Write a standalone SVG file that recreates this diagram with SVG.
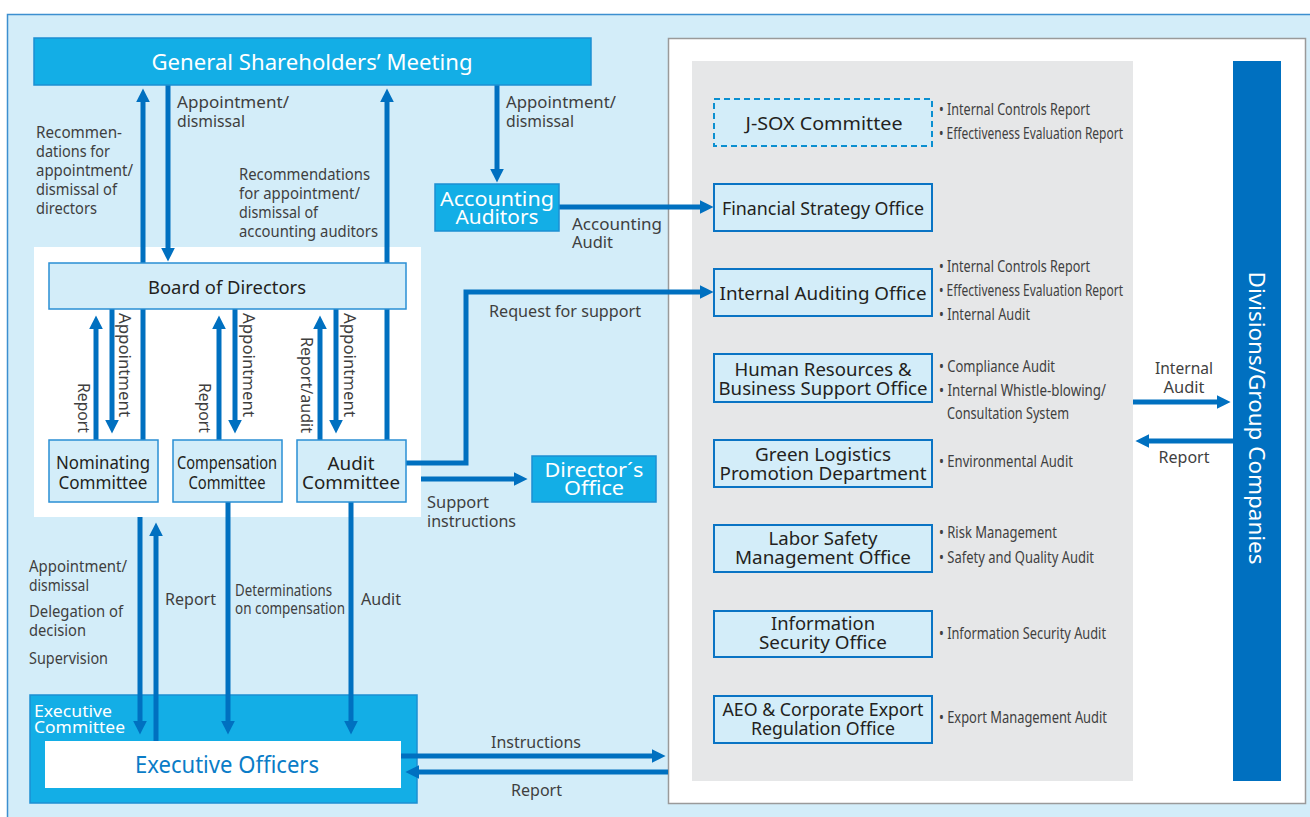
<svg xmlns="http://www.w3.org/2000/svg" width="1310" height="817" viewBox="0 0 1310 817">
<defs>
<marker id="ah" viewBox="0 0 10 10" refX="1" refY="5" markerWidth="14" markerHeight="14" markerUnits="userSpaceOnUse" orient="auto"><path d="M0,0L10,5L0,10z" fill="#0070c0"/></marker>
<style>
text{font-family:"Noto Sans","Open Sans",sans-serif}
.lbl{font-size:16px;fill:#3f3f3f}
.cnd{font-size:17px;fill:#3f3f3f}
.bx{font-size:18px;fill:#231f20}
.wt{fill:#fff}
.c{text-anchor:middle}
.e{text-anchor:end}
.ln{fill:none;stroke:#0070c0;stroke-width:5;marker-end:url(#ah)}
.lb{fill:#d3edf9;stroke:#2a8fd4;stroke-width:1.5}
.rb{fill:#d3edf9;stroke:#0a74c4;stroke-width:2}
.cy{fill:#13aee6;stroke:#1d8fd2;stroke-width:1.5}
</style>
</defs>
<rect x="7.5" y="14.5" width="1320" height="820" fill="#d3edf9" stroke="#3c8fd0" stroke-width="1.5"/>
<rect x="34" y="247" width="387" height="270" fill="#fff"/>
<rect x="30" y="695" width="387" height="108" class="cy"/>
<rect x="668.5" y="38.5" width="637" height="765" fill="#fff" stroke="#9a9a9a" stroke-width="1.5"/>
<rect x="692" y="61" width="441" height="720" fill="#e6e7e8"/>

<g id="connectors">
<path class="ln" d="M143,440V101"/>
<path class="ln" d="M168,85V249"/>
<path class="ln" d="M387,440V101"/>
<path class="ln" d="M497,85V170"/>
<path class="ln" d="M559,207H701"/>
<path class="ln" d="M406,463H466V292H701"/>
<path class="ln" d="M421,479H515"/>
<path class="ln" d="M96,440V328"/>
<path class="ln" d="M112,309V421"/>
<path class="ln" d="M219,440V328"/>
<path class="ln" d="M235,309V421"/>
<path class="ln" d="M320,440V328"/>
<path class="ln" d="M336,309V421"/>
<path class="ln" d="M140,517V722"/>
<path class="ln" d="M156,742V535"/>
<path class="ln" d="M228,502V722"/>
<path class="ln" d="M351,502V722"/>
<path class="ln" d="M401,756H653"/>
<path class="ln" d="M668,772H418"/>
<path class="ln" d="M1133,402H1218"/>
<path class="ln" d="M1233,441H1148"/>
</g>

<g id="labels">
<text class="lbl" x="177" y="108" textLength="112" lengthAdjust="spacingAndGlyphs">Appointment/</text>
<text class="lbl" x="177" y="127" textLength="68" lengthAdjust="spacingAndGlyphs">dismissal</text>
<text class="lbl" x="36" y="138" textLength="86" lengthAdjust="spacingAndGlyphs">Recommen-</text>
<text class="lbl" x="36" y="157" textLength="74" lengthAdjust="spacingAndGlyphs">dations for</text>
<text class="lbl" x="36" y="176" textLength="97" lengthAdjust="spacingAndGlyphs">appointment/</text>
<text class="lbl" x="36" y="195" textLength="81" lengthAdjust="spacingAndGlyphs">dismissal of</text>
<text class="lbl" x="36" y="214" textLength="61" lengthAdjust="spacingAndGlyphs">directors</text>
<text class="lbl" x="239" y="180" textLength="131" lengthAdjust="spacingAndGlyphs">Recommendations</text>
<text class="lbl" x="239" y="199" textLength="121" lengthAdjust="spacingAndGlyphs">for appointment/</text>
<text class="lbl" x="239" y="218" textLength="79" lengthAdjust="spacingAndGlyphs">dismissal of</text>
<text class="lbl" x="239" y="237" textLength="139" lengthAdjust="spacingAndGlyphs">accounting auditors</text>
<text class="lbl" x="506" y="108" textLength="110" lengthAdjust="spacingAndGlyphs">Appointment/</text>
<text class="lbl" x="506" y="127" textLength="68" lengthAdjust="spacingAndGlyphs">dismissal</text>
<text class="lbl" x="572" y="230" textLength="90" lengthAdjust="spacingAndGlyphs">Accounting</text>
<text class="lbl" x="572" y="248" textLength="41" lengthAdjust="spacingAndGlyphs">Audit</text>
<text class="lbl" x="489" y="317" textLength="152" lengthAdjust="spacingAndGlyphs">Request for support</text>
<text class="lbl" x="427" y="508" textLength="62" lengthAdjust="spacingAndGlyphs">Support</text>
<text class="lbl" x="427" y="527" textLength="89" lengthAdjust="spacingAndGlyphs">instructions</text>
<text class="lbl" transform="translate(77.5,433) rotate(90)" text-anchor="end" textLength="50" lengthAdjust="spacingAndGlyphs">Report</text>
<text class="lbl" transform="translate(119,313) rotate(90)" textLength="104" lengthAdjust="spacingAndGlyphs">Appointment</text>
<text class="lbl" transform="translate(199,433) rotate(90)" text-anchor="end" textLength="50" lengthAdjust="spacingAndGlyphs">Report</text>
<text class="lbl" transform="translate(243,313) rotate(90)" textLength="104" lengthAdjust="spacingAndGlyphs">Appointment</text>
<text class="lbl" transform="translate(301,433) rotate(90)" text-anchor="end" textLength="96" lengthAdjust="spacingAndGlyphs">Report/audit</text>
<text class="lbl" transform="translate(344,313) rotate(90)" textLength="104" lengthAdjust="spacingAndGlyphs">Appointment</text>
<text class="cnd" x="29" y="572" textLength="98" lengthAdjust="spacingAndGlyphs">Appointment/</text>
<text class="cnd" x="29" y="591" textLength="60" lengthAdjust="spacingAndGlyphs">dismissal</text>
<text class="cnd" x="29" y="617" textLength="94" lengthAdjust="spacingAndGlyphs">Delegation of</text>
<text class="cnd" x="29" y="636" textLength="57" lengthAdjust="spacingAndGlyphs">decision</text>
<text class="cnd" x="29" y="664" textLength="79" lengthAdjust="spacingAndGlyphs">Supervision</text>
<text class="cnd" x="165" y="605" textLength="51" lengthAdjust="spacingAndGlyphs">Report</text>
<text class="cnd" x="235" y="596" font-size="16" textLength="97" lengthAdjust="spacingAndGlyphs">Determinations</text>
<text class="cnd" x="235" y="614" font-size="16" textLength="110" lengthAdjust="spacingAndGlyphs">on compensation</text>
<text class="cnd" x="361" y="605" textLength="40" lengthAdjust="spacingAndGlyphs">Audit</text>
<text class="cnd" x="491" y="748" textLength="90" lengthAdjust="spacingAndGlyphs">Instructions</text>
<text class="cnd" x="511" y="796" textLength="51" lengthAdjust="spacingAndGlyphs">Report</text>
<text class="cnd c" x="1184" y="374" textLength="58" lengthAdjust="spacingAndGlyphs">Internal</text>
<text class="cnd c" x="1184" y="393" textLength="41" lengthAdjust="spacingAndGlyphs">Audit</text>
<text class="cnd c" x="1184" y="463" textLength="51" lengthAdjust="spacingAndGlyphs">Report</text>
<text class="cnd" x="939" y="115" textLength="151" lengthAdjust="spacingAndGlyphs">• Internal Controls Report</text>
<text class="cnd" x="939" y="139" textLength="184" lengthAdjust="spacingAndGlyphs">• Effectiveness Evaluation Report</text>
<text class="cnd" x="939" y="272" textLength="151" lengthAdjust="spacingAndGlyphs">• Internal Controls Report</text>
<text class="cnd" x="939" y="296" textLength="184" lengthAdjust="spacingAndGlyphs">• Effectiveness Evaluation Report</text>
<text class="cnd" x="939" y="320" textLength="91" lengthAdjust="spacingAndGlyphs">• Internal Audit</text>
<text class="cnd" x="939" y="372" textLength="116" lengthAdjust="spacingAndGlyphs">• Compliance Audit</text>
<text class="cnd" x="939" y="396" textLength="167" lengthAdjust="spacingAndGlyphs">• Internal Whistle-blowing/</text>
<text class="cnd" x="947" y="419" textLength="122" lengthAdjust="spacingAndGlyphs">Consultation System</text>
<text class="cnd" x="939" y="467" textLength="134" lengthAdjust="spacingAndGlyphs">• Environmental Audit</text>
<text class="cnd" x="939" y="538" textLength="118" lengthAdjust="spacingAndGlyphs">• Risk Management</text>
<text class="cnd" x="939" y="563" textLength="155" lengthAdjust="spacingAndGlyphs">• Safety and Quality Audit</text>
<text class="cnd" x="939" y="639" textLength="167" lengthAdjust="spacingAndGlyphs">• Information Security Audit</text>
<text class="cnd" x="939" y="723" textLength="168" lengthAdjust="spacingAndGlyphs">• Export Management Audit</text>
</g>

<g id="gsm"><rect x="34" y="38" width="557" height="47" class="cy"/><text class="wt c" x="312" y="70" font-size="22" textLength="321" lengthAdjust="spacingAndGlyphs">General Shareholders’ Meeting</text></g>
<g id="board"><rect x="49" y="263" width="357" height="46" class="lb"/><text class="bx c" x="227" y="294" textLength="158" lengthAdjust="spacingAndGlyphs">Board of Directors</text></g>
<g id="nominating"><rect x="49" y="440" width="109" height="62" class="lb"/><text class="bx c" x="103" y="469" font-size="17" textLength="94" lengthAdjust="spacingAndGlyphs">Nominating</text><text class="bx c" x="103" y="489" font-size="17" textLength="89" lengthAdjust="spacingAndGlyphs">Committee</text></g>
<g id="compensation"><rect x="173" y="440" width="109" height="62" class="lb"/><text class="bx c" x="227" y="469" font-size="17" textLength="100" lengthAdjust="spacingAndGlyphs">Compensation</text><text class="bx c" x="227" y="489" font-size="17" textLength="77" lengthAdjust="spacingAndGlyphs">Committee</text></g>
<g id="audit"><rect x="297" y="440" width="109" height="62" class="lb"/><text class="bx c" x="351" y="470" font-size="19" textLength="47" lengthAdjust="spacingAndGlyphs">Audit</text><text class="bx c" x="351" y="489" font-size="19" textLength="98" lengthAdjust="spacingAndGlyphs">Committee</text></g>
<g id="accounting-auditors"><rect x="435" y="184" width="124" height="47" class="cy"/><text class="wt c" x="497" y="206" font-size="19" textLength="114" lengthAdjust="spacingAndGlyphs">Accounting</text><text class="wt c" x="497" y="224" font-size="19" textLength="83" lengthAdjust="spacingAndGlyphs">Auditors</text></g>
<g id="directors-office"><rect x="532" y="456" width="124" height="46" class="cy"/><text class="wt c" x="594" y="477" font-size="19" textLength="99" lengthAdjust="spacingAndGlyphs">Director´s</text><text class="wt c" x="594" y="495" font-size="19" textLength="60" lengthAdjust="spacingAndGlyphs">Office</text></g>
<g id="executive-committee"><text class="wt" x="34" y="717" font-size="17" textLength="78" lengthAdjust="spacingAndGlyphs">Executive</text><text class="wt" x="34" y="733" font-size="17" textLength="91" lengthAdjust="spacingAndGlyphs">Committee</text></g>
<g id="executive-officers"><rect x="45" y="741" width="356" height="47" fill="#fff"/><text class="c" x="227" y="773" font-size="24" fill="#0a7cc7" textLength="184" lengthAdjust="spacingAndGlyphs">Executive Officers</text></g>
<g id="jsox"><rect x="714" y="99" width="218" height="47" fill="#d3edf9" stroke="#0a8fd0" stroke-width="2" stroke-dasharray="6,4"/><text class="bx c" x="824" y="130" font-size="19" textLength="157" lengthAdjust="spacingAndGlyphs">J-SOX Committee</text></g>
<g id="financial-strategy"><rect x="714" y="184" width="218" height="47" class="rb"/><text class="bx c" x="823" y="215" font-size="19" textLength="202" lengthAdjust="spacingAndGlyphs">Financial Strategy Office</text></g>
<g id="internal-auditing"><rect x="714" y="269" width="218" height="47" class="rb"/><text class="bx c" x="823" y="300" font-size="19" textLength="207" lengthAdjust="spacingAndGlyphs">Internal Auditing Office</text></g>
<g id="human-resources"><rect x="714" y="354" width="218" height="48" class="rb"/><text class="bx c" x="823" y="376" font-size="19" textLength="177" lengthAdjust="spacingAndGlyphs">Human Resources &amp;</text><text class="bx c" x="823" y="395" font-size="19" textLength="209" lengthAdjust="spacingAndGlyphs">Business Support Office</text></g>
<g id="green-logistics"><rect x="714" y="440" width="218" height="47" class="rb"/><text class="bx c" x="823" y="461" font-size="19" textLength="136" lengthAdjust="spacingAndGlyphs">Green Logistics</text><text class="bx c" x="823" y="480" font-size="19" textLength="207" lengthAdjust="spacingAndGlyphs">Promotion Department</text></g>
<g id="labor-safety"><rect x="714" y="525" width="218" height="47" class="rb"/><text class="bx c" x="823" y="545" font-size="19" textLength="109" lengthAdjust="spacingAndGlyphs">Labor Safety</text><text class="bx c" x="823" y="564" font-size="19" textLength="176" lengthAdjust="spacingAndGlyphs">Management Office</text></g>
<g id="information-security"><rect x="714" y="611" width="218" height="46" class="rb"/><text class="bx c" x="823" y="630" font-size="19" textLength="104" lengthAdjust="spacingAndGlyphs">Information</text><text class="bx c" x="823" y="649" font-size="19" textLength="128" lengthAdjust="spacingAndGlyphs">Security Office</text></g>
<g id="aeo"><rect x="714" y="696" width="218" height="47" class="rb"/><text class="bx c" x="823" y="716" font-size="19" textLength="201" lengthAdjust="spacingAndGlyphs">AEO &amp; Corporate Export</text><text class="bx c" x="823" y="735" font-size="19" textLength="144" lengthAdjust="spacingAndGlyphs">Regulation Office</text></g>
<g id="divisions"><rect x="1233" y="61" width="48" height="720" fill="#0070c0"/><text class="wt c" transform="translate(1249,418) rotate(90)" font-size="22" textLength="293" lengthAdjust="spacingAndGlyphs">Divisions/Group Companies</text></g>
</svg>
